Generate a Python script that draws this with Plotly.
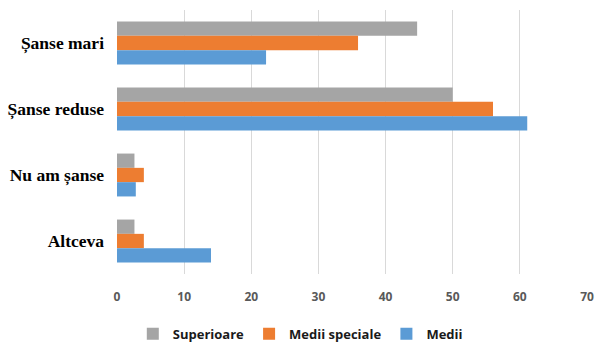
import plotly.graph_objects as go

categories = ["Șanse mari", "Șanse reduse", "Nu am șanse", "Altceva"]
superioare = [44.7, 50.0, 2.6, 2.6]
medii_speciale = [35.9, 56.0, 4.0, 4.0]
medii = [22.2, 61.1, 2.8, 14.0]
x_ticks = [0, 10, 20, 30, 40, 50, 60, 70]

fig = go.Figure()
for name, vals, col in [("Superioare", superioare, "#A5A5A5"),
                        ("Medii speciale", medii_speciale, "#ED7D31"),
                        ("Medii", medii, "#5B9BD5")]:
    fig.add_trace(go.Bar(y=categories, x=vals, name="<b>" + name + "</b>", orientation="h",
                         marker=dict(color=col, line=dict(width=0))))

fig.update_layout(
    width=613, height=359,
    margin=dict(l=117, r=26, t=10, b=76),
    paper_bgcolor="white", plot_bgcolor="white",
    barmode="group", bargap=0.35, bargroupgap=0,
    showlegend=True,
    legend=dict(orientation="h", x=0.39, xanchor="center", y=-0.17, yanchor="top",
                font=dict(family="Open Sans, Arial", size=13, color="#1a1a1a"),
                traceorder="normal", itemwidth=30),
    xaxis=dict(range=[0, 70], tickvals=x_ticks, ticktext=["<b>%d</b>" % v for v in x_ticks],
               showgrid=True, gridcolor="#D9D9D9", automargin=False,
               gridwidth=1, zeroline=False, showline=False,
               tickfont=dict(family="Open Sans, Arial", size=12, color="#595959"),
               ticks="", ticklabelstandoff=14),
    yaxis=dict(autorange="reversed", showgrid=False, zeroline=False, showline=False,
               tickvals=categories, ticktext=["<b>%s</b>" % c for c in categories],
               tickfont=dict(family="Liberation Serif", size=17.5, color="black"),
               ticks="", ticklabelstandoff=12, automargin=False),
)
fig.write_html("out.html")
